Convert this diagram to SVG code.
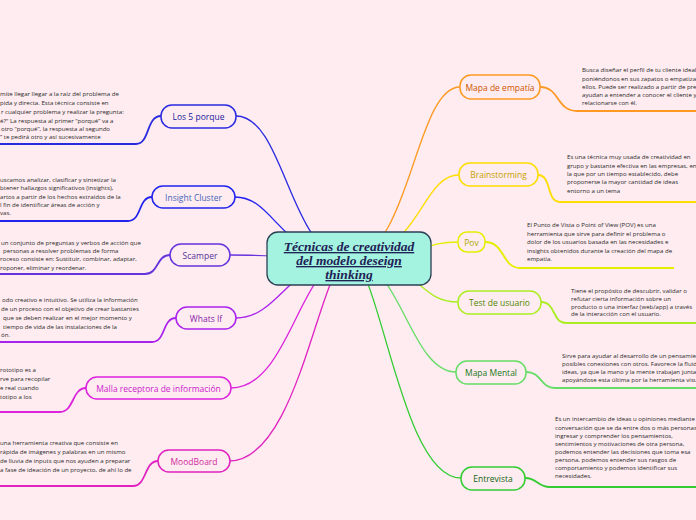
<svg xmlns="http://www.w3.org/2000/svg" width="696" height="520" viewBox="0 0 696 520">
<style>
.bg{fill:#feecf0}
.nd{fill:#feecf0;stroke-width:1.5}
.nt{font-family:"Open Sans","Noto Sans",sans-serif;font-size:8.5px;text-anchor:middle;dominant-baseline:central}
.ds{font-family:"Open Sans","Noto Sans",sans-serif;font-size:6.1px;fill:#2a2a2a}
.c{fill:none;stroke-width:1.3}
.u{fill:none;stroke-width:1.8}
</style>
<rect class="bg" x="0" y="0" width="696" height="520"/>
<g id="connectors">
<path class="c" stroke="#ff9922" d="M349,258 C410,258 415,87 460,87"/>
<path class="c" stroke="#ffdd00" d="M349,258 C420,258 420,175 459,175"/>
<path class="c" stroke="#e6ee00" d="M349,258 C420,258 420,242 458,242"/>
<path class="c" stroke="#aaee22" d="M349,258 C420,258 415,302 458,302"/>
<path class="c" stroke="#66dd66" d="M349,258 C400,258 410,372 456,372"/>
<path class="c" stroke="#33cc33" d="M349,258 C380,258 400,478 461,478"/>
<path class="c" stroke="#2a2ae0" d="M349,258 C290,258 285,116 236,116"/>
<path class="c" stroke="#2222ee" d="M349,258 C280,258 275,197 235,197"/>
<path class="c" stroke="#6633dd" d="M349,258 C290,258 270,255 230,255"/>
<path class="c" stroke="#aa22ee" d="M349,258 C290,258 280,318 236,318"/>
<path class="c" stroke="#dd22dd" d="M349,258 C300,258 290,388 231,388"/>
<path class="c" stroke="#e022c0" d="M349,258 C320,258 300,461 229,461"/>
<path class="u" stroke="#ff9922" d="M540,87 C560,87 556,111 577,111 L696,111"/>
<path class="u" stroke="#ffdd00" d="M538,175 C552,175 546,202 560,202 L696,202"/>
<path class="u" stroke="#e6ee00" d="M485,242 C505,242 502,268 520,268 L674,268"/>
<path class="u" stroke="#aaee22" d="M541,302 C556,302 552,323 566,323 L696,323"/>
<path class="u" stroke="#66dd66" d="M526,372 C542,372 540,388 555,388 L696,388"/>
<path class="u" stroke="#33cc33" d="M525,478 C538,478 537,487 550,487 L696,487"/>
<path class="u" stroke="#2a2ae0" d="M161,116 C146,116 150,144 136,144 L0,144"/>
<path class="u" stroke="#2222ee" d="M152,197 C138,197 142,221 128,221 L0,221"/>
<path class="u" stroke="#6633dd" d="M170,255 C156,255 159,274 145,274 L0,274"/>
<path class="u" stroke="#aa22ee" d="M176,318 C162,318 166,342 152,342 L0,342"/>
<path class="u" stroke="#dd22dd" d="M86,388 C72,388 74,412 60,412 L0,412"/>
<path class="u" stroke="#e022c0" d="M158,461 C144,461 147,486 133,486 L0,486"/>
</g>
<g id="center">
<rect x="267" y="232" width="164" height="53" rx="11" fill="#a3f3e0" stroke="#2d3f55" stroke-width="1.3"/>
<text font-family="'Liberation Serif',serif" font-size="13.5" font-weight="bold" font-style="italic" text-decoration="underline" fill="#1e2255" text-anchor="middle"><tspan x="349" y="251">Técnicas de creatividad</tspan><tspan x="349" y="265">del modelo deseign</tspan><tspan x="349" y="279">thinking</tspan></text>
</g>
<g id="mapa-empatia">
<rect class="nd" x="460" y="75" width="80" height="24" rx="11" stroke="#ff9922"/>
<text class="nt" x="500" y="87" fill="#cc5500">Mapa de empatía</text>
<text class="ds"><tspan x="582" y="72">Busca diseñar el perfil de tu cliente ideal</tspan><tspan x="582" y="80.5">poniéndonos en sus zapatos o empatizan</tspan><tspan x="582" y="89">ellos. Puede ser realizado a partir de preg</tspan><tspan x="582" y="97">ayudan a  entender a conocer el cliente y</tspan><tspan x="582" y="105">relacionarse con él.</tspan></text>
</g>
<g id="brainstorming">
<rect class="nd" x="459" y="163" width="79" height="23" rx="11" stroke="#ffdd00"/>
<text class="nt" x="498.5" y="174.5" fill="#c8a000">Brainstorming</text>
<text class="ds"><tspan x="567" y="159">Es una técnica muy usada de creatividad en</tspan><tspan x="567" y="167.5">grupo y bastante efectiva en las empresas, en</tspan><tspan x="567" y="176">la que por un tiempo establecido, debe</tspan><tspan x="567" y="184">proponerse la mayor cantidad de ideas</tspan><tspan x="567" y="192.5">entorno a un tema</tspan></text>
</g>
<g id="pov">
<rect class="nd" x="458" y="232" width="27" height="20" rx="9" stroke="#e6ee00"/>
<text class="nt" x="471.5" y="242" fill="#aaaa00">Pov</text>
<text class="ds"><tspan x="527" y="227">El Punto de Vista o Point of View (POV) es una</tspan><tspan x="527" y="235.5">herramienta que sirve para definir el problema o</tspan><tspan x="527" y="244">dolor de los usuarios basada en las necesidades e</tspan><tspan x="527" y="252.5">insights obtenidos durante la creación del mapa de</tspan><tspan x="527" y="261">empatía.</tspan></text>
</g>
<g id="test-usuario">
<rect class="nd" x="458" y="291" width="83" height="23" rx="11" stroke="#aaee22"/>
<text class="nt" x="499.5" y="302.5" fill="#4d8800">Test de usuario</text>
<text class="ds"><tspan x="571" y="293">Tiene el propósito de descubrir, validar o</tspan><tspan x="571" y="300.5">refutar cierta información sobre un</tspan><tspan x="571" y="308.5">producto o una interfaz (web/app) a través</tspan><tspan x="571" y="316">de la interacción con el usuario.</tspan></text>
</g>
<g id="mapa-mental">
<rect class="nd" x="456" y="361" width="70" height="23" rx="11" stroke="#66dd66"/>
<text class="nt" x="491" y="372.5" fill="#227722">Mapa Mental</text>
<text class="ds"><tspan x="562" y="358">Sirve para ayudar al desarrollo de un pensamien</tspan><tspan x="562" y="365.5">posibles conexiones con otros. Favorece la fluide</tspan><tspan x="562" y="374">ideas, ya que la mano y la mente trabajan juntas,</tspan><tspan x="562" y="381.5">apoyándose esta última por la herramienta visua</tspan></text>
</g>
<g id="entrevista">
<rect class="nd" x="461" y="467" width="64" height="23" rx="11" stroke="#33cc33"/>
<text class="nt" x="493" y="478.5" fill="#116611">Entrevista</text>
<text class="ds"><tspan x="555" y="421">Es un intercambio de ideas u opiniones mediante u</tspan><tspan x="555" y="429.5">conversación que se da entre dos o más personas.</tspan><tspan x="555" y="438">ingresar y comprender los pensamientos,</tspan><tspan x="555" y="445.5">sentimientos y motivaciones de otra persona,</tspan><tspan x="555" y="453.5">podemos entender las decisiones que toma esa</tspan><tspan x="555" y="461.5">persona, podemos entender sus rasgos de</tspan><tspan x="555" y="469.5">comportamiento y podemos identificar sus</tspan><tspan x="555" y="477.5">necesidades.</tspan></text>
</g>
<g id="los-5-porque">
<rect class="nd" x="161" y="105" width="75" height="23" rx="11" stroke="#2a2ae0"/>
<text class="nt" x="198.5" y="116.5" fill="#1a1aa0">Los 5 porque</text>
<text class="ds"><tspan x="0" y="96">mite llegar llegar a la raíz del problema de</tspan><tspan x="0" y="105">pida y directa. Esta técnica consiste en</tspan><tspan x="1" y="114">r cualquier problema y realizar la pregunta:</tspan><tspan x="0" y="123">é?" La respuesta al primer “porqué” va a</tspan><tspan x="1" y="131">otro “porqué”, la respuesta al segundo</tspan><tspan x="0" y="139">” te pedirá otro y así sucesivamente</tspan></text>
</g>
<g id="insight-cluster">
<rect class="nd" x="152" y="186" width="83" height="22" rx="11" stroke="#2222ee"/>
<text class="nt" x="193.5" y="197" fill="#4466bb">Insight Cluster</text>
<text class="ds"><tspan x="0" y="182">uscamos analizar, clasificar y sintetizar la</tspan><tspan x="0" y="190">btener hallazgos significativos (insights),</tspan><tspan x="0" y="198.5">artos a partir de los hechos extraídos de la</tspan><tspan x="0" y="207">l fin de identificar áreas de acción y</tspan><tspan x="0" y="215">vas.</tspan></text>
</g>
<g id="scamper">
<rect class="nd" x="170" y="244" width="60" height="22" rx="11" stroke="#6633dd"/>
<text class="nt" x="200" y="255" fill="#553399">Scamper</text>
<text class="ds"><tspan x="1" y="245">un conjunto de preguntas y verbos de acción que</tspan><tspan x="3" y="252.5">personas a resolver problemas de forma</tspan><tspan x="0" y="261">roceso consiste en: Sustituir, combinar, adaptar,</tspan><tspan x="0" y="270">roponer, eliminar y reordenar.</tspan></text>
</g>
<g id="whats-if">
<rect class="nd" x="176" y="307" width="60" height="22" rx="11" stroke="#aa22ee"/>
<text class="nt" x="206" y="318" fill="#8822aa">Whats If</text>
<text class="ds"><tspan x="2" y="302">odo creativo e intuitivo. Se utiliza la información</tspan><tspan x="1" y="311">de un proceso con el objetivo de crear bastantes</tspan><tspan x="3" y="320">que se deben realizar en el mejor momento y</tspan><tspan x="3" y="329">tiempo de vida de las instalaciones de la</tspan><tspan x="1" y="337">ón.</tspan></text>
</g>
<g id="malla">
<rect class="nd" x="86" y="377" width="145" height="22" rx="11" stroke="#dd22dd"/>
<text class="nt" x="158.5" y="388" fill="#cc22cc">Malla receptora de información</text>
<text class="ds"><tspan x="0" y="372">rototipo es a</tspan><tspan x="0" y="381">rve para recopilar</tspan><tspan x="0" y="390">e real cuando</tspan><tspan x="0" y="399">totipo a los</tspan></text>
</g>
<g id="moodboard">
<rect class="nd" x="158" y="450" width="72" height="22" rx="11" stroke="#e022c0"/>
<text class="nt" x="194" y="461" fill="#d02aa0">MoodBoard</text>
<text class="ds"><tspan x="0" y="445">una herramienta creativa que consiste en</tspan><tspan x="0" y="454">rápida de imágenes y palabras en un mismo</tspan><tspan x="0" y="463">de lluvia de inputs que nos ayuden a preparar</tspan><tspan x="0" y="472">a fase de ideación de un proyecto, de ahí lo de</tspan></text>
</g>
</svg>
